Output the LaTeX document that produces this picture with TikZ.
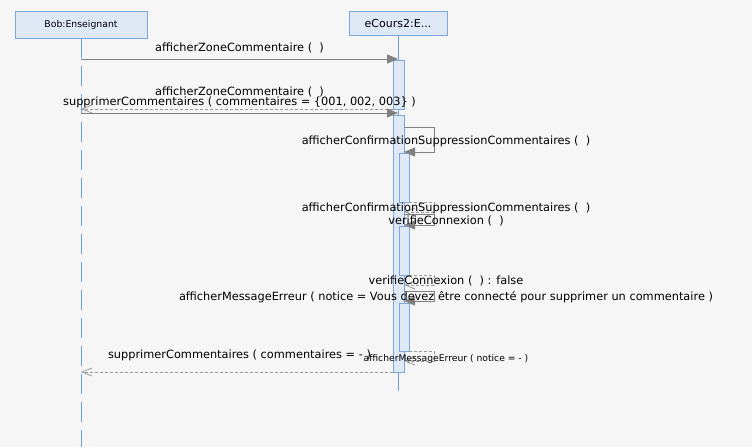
\documentclass[tikz,border=0pt]{standalone}
\usepackage{fontspec}
\setmainfont{DejaVu Sans}
\usetikzlibrary{arrows.meta}
\definecolor{bgc}{HTML}{F6F6F6}
\definecolor{boxfill}{HTML}{DEE9F5}
\definecolor{boxline}{HTML}{7EA6DC}
\definecolor{lifec}{HTML}{6F9FDC}
\definecolor{msgc}{HTML}{808080}
\definecolor{retc}{HTML}{9A9A9A}
\tikzset{
  head/.style={draw=boxline, fill=boxfill, line width=0.9pt, inner sep=0pt, outer sep=0pt},
  bar/.style={draw=boxline, fill=boxfill, line width=0.9pt, inner sep=0pt, outer sep=0pt, minimum width=11pt, anchor=north west},
  lifesolid/.style={draw=lifec, line width=0.9pt},
  lifedash/.style={draw=lifec, line width=0.9pt, dash pattern=on 20pt off 8pt},
  call/.style={draw=msgc, line width=0.9pt, -{Triangle[length=11pt,width=9pt,fill=msgc]}},
  ret/.style={draw=retc, line width=0.8pt, dash pattern=on 3pt off 2pt, -{Straight Barb[length=10pt,width=8pt,line width=0.8pt]}},
  lbl/.style={font=\fontsize{11.35}{13}\selectfont, inner sep=0pt, anchor=base},
  slbl/.style={font=\fontsize{9.2}{11}\selectfont, inner sep=0pt, anchor=base},
}
\begin{document}
\begin{tikzpicture}[x=1pt,y=-1pt]
\fill[bgc] (0,0) rectangle (752,447);
\useasboundingbox (0,0) rectangle (752,447);
% heads
\node[head, minimum width=132pt, minimum height=27pt, font=\fontsize{9.3}{11}\selectfont] (bob) at (81,24.5) {Bob:Enseignant};
\node[head, minimum width=98pt, minimum height=24pt, font=\fontsize{11}{13}\selectfont] (ec) at (398,23) {eCours2:E...};
\coordinate (bobend) at (81,447);
\coordinate (ecend) at (398,391);
\draw[lifedash] (bob.south) -- (bobend);
\draw[lifesolid] (ec.south) -- (ecend);
% activation bars
\node[bar, minimum height=49pt] (a1) at (393,60) {};
\node[bar, minimum height=257pt] (a2) at (393,115) {};
\node[bar, minimum width=10pt, minimum height=49pt] (b1) at (399,153) {};
\node[bar, minimum width=10pt, minimum height=49pt] (b2) at (399,226) {};
\node[bar, minimum width=10pt, minimum height=48pt] (b3) at (399,303) {};
% message coordinates
\coordinate (m1s) at (81,59);   \coordinate (m1e) at (398,59);
\coordinate (r1s) at (393,109); \coordinate (r1e) at (81,109);
\coordinate (m2s) at (81,113);  \coordinate (m2e) at (398,113);
\coordinate (s1a) at (404,127); \coordinate (s1b) at (434,127); \coordinate (s1c) at (434,152); \coordinate (s1d) at (404,152);
\coordinate (t1a) at (409,202); \coordinate (t1b) at (434,202); \coordinate (t1c) at (434,212); \coordinate (t1d) at (404,212);
\coordinate (s2a) at (404,214); \coordinate (s2b) at (434,214); \coordinate (s2c) at (434,225); \coordinate (s2d) at (404,225);
\coordinate (t2a) at (409,275); \coordinate (t2b) at (434,275); \coordinate (t2c) at (434,285); \coordinate (t2d) at (404,285);
\coordinate (s3a) at (404,291); \coordinate (s3b) at (434,291); \coordinate (s3c) at (434,301); \coordinate (s3d) at (404,301);
\coordinate (t3a) at (409,351); \coordinate (t3b) at (434,351); \coordinate (t3c) at (434,361); \coordinate (t3d) at (404,361);
\coordinate (r2s) at (393,372); \coordinate (r2e) at (81,372);
% messages
\draw[call] (m1s) -- (m1e);
\draw[ret] (r1s) -- (r1e);
\draw[call] (m2s) -- (m2e);
\draw[call] (s1a) -- (s1b) -- (s1c) -- (s1d);
\draw[ret] (t1a) -- (t1b) -- (t1c) -- (t1d);
\draw[call] (s2a) -- (s2b) -- (s2c) -- (s2d);
\draw[ret] (t2a) -- (t2b) -- (t2c) -- (t2d);
\draw[call] (s3a) -- (s3b) -- (s3c) -- (s3d);
\draw[ret] (t3a) -- (t3b) -- (t3c) -- (t3d);
\draw[ret] (r2s) -- (r2e);
% labels
\node[lbl] (l1) at (239.5,51) {afficherZoneCommentaire (\ \ )};
\node[lbl] (l2) at (239.5,95) {afficherZoneCommentaire (\ \ )};
\node[lbl] (l3) at (239.5,105) {supprimerCommentaires ( commentaires = \{001, 002, 003\} )};
\node[lbl] (l4) at (446,144) {afficherConfirmationSuppressionCommentaires (\ \ )};
\node[lbl] (l5) at (446,211) {afficherConfirmationSuppressionCommentaires (\ \ )};
\node[lbl] (l6) at (446,224) {verifieConnexion (\ \ )};
\node[lbl] (l7) at (446,284) {verifieConnexion (\ \ ) : false};
\node[lbl] (l8) at (446,300) {afficherMessageErreur ( notice = Vous devez être connecté pour supprimer un commentaire )};
\node[slbl] (l9) at (446,361.5) {afficherMessageErreur ( notice = - )};
\node[lbl] (l10) at (239.5,358) {supprimerCommentaires ( commentaires = - )};
\end{tikzpicture}
\end{document}
